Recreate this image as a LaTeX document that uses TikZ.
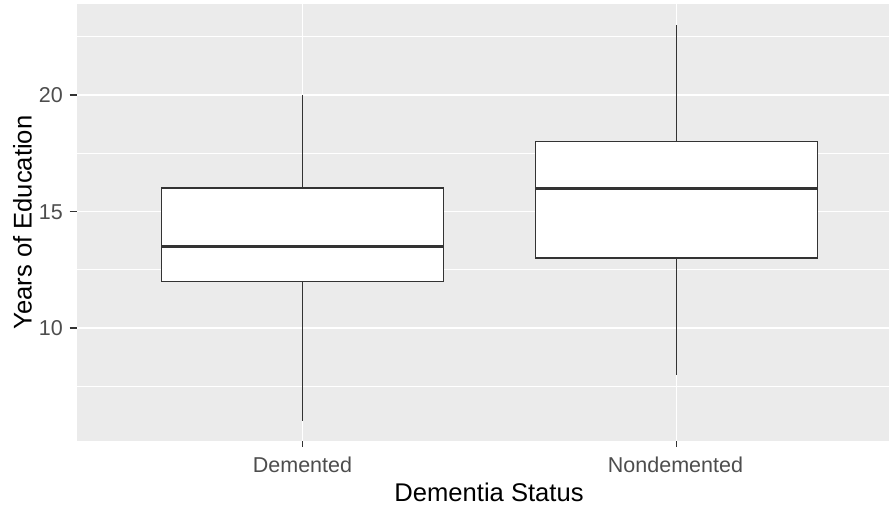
\documentclass[tikz,border=0pt]{standalone}
\usepackage{fontspec}
\setmainfont{Liberation Sans}
\definecolor{panelbg}{HTML}{EBEBEB}
\definecolor{boxline}{HTML}{333333}
\definecolor{ticklab}{HTML}{4D4D4D}
\tikzset{
  majorgrid/.style={white, line width=1.5pt},
  minorgrid/.style={white, line width=0.75pt},
  boxstyle/.style={draw=boxline, fill=white, line width=1.7pt},
  whisker/.style={boxline, line width=1.7pt},
  medianline/.style={boxline, line width=3.4pt},
  tickmark/.style={boxline, line width=1.5pt},
  ticklabel/.style={text=ticklab, inner sep=0pt, font=\fontsize{21.5}{24}\selectfont},
  axistitle/.style={text=black, inner sep=0pt, font=\fontsize{25.6}{28}\selectfont}
}
\begin{document}
\begin{tikzpicture}[x=1pt,y=-1pt]
\useasboundingbox (0,0) rectangle (889,508);
% panel
\fill[panelbg] (77,4.5) rectangle (889,441);
% minor grid
\foreach \yy in {36.75,153.25,269.75,386.25}
  \draw[minorgrid] (77,\yy) -- (889,\yy);
% major grid
\foreach \yy in {95,211.5,328}
  \draw[majorgrid] (77,\yy) -- (889,\yy);
\foreach \xx in {302.5,676.5}
  \draw[majorgrid] (\xx,4.5) -- (\xx,441);
% Demented box
\draw[whisker] (302.5,188.2) -- (302.5,95);
\draw[whisker] (302.5,281.4) -- (302.5,421.2);
\draw[boxstyle] (161.5,188.2) rectangle (443.5,281.4);
\draw[medianline] (161.5,246.45) -- (443.5,246.45);
% Nondemented box
\draw[whisker] (676.5,141.6) -- (676.5,25.1);
\draw[whisker] (676.5,258.1) -- (676.5,374.6);
\draw[boxstyle] (535.5,141.6) rectangle (817.5,258.1);
\draw[medianline] (535.5,188.2) -- (817.5,188.2);
% y ticks
\foreach \yy in {95,211.5,328}
  \draw[tickmark] (69.5,\yy) -- (77,\yy);
\node[ticklabel, anchor=base east] (y20) at (63,102.7) {20};
\node[ticklabel, anchor=base east] (y15) at (63,219.2) {15};
\node[ticklabel, anchor=base east] (y10) at (63,335.7) {10};
% x ticks
\foreach \xx in {302.5,676.5}
  \draw[tickmark] (\xx,441) -- (\xx,446.5);
\node[ticklabel, anchor=base] (xdem) at (302.5,472.7) {Demented};
\node[ticklabel, anchor=base] (xnon) at (675.5,472.7) {Nondemented};
% axis titles
\node[axistitle, anchor=base] (xtitle) at (489,501.7) {Dementia Status};
\node[axistitle, anchor=base, rotate=90] (ytitle) at (31.7,222.5) {Years of Education};
\end{tikzpicture}
\end{document}
